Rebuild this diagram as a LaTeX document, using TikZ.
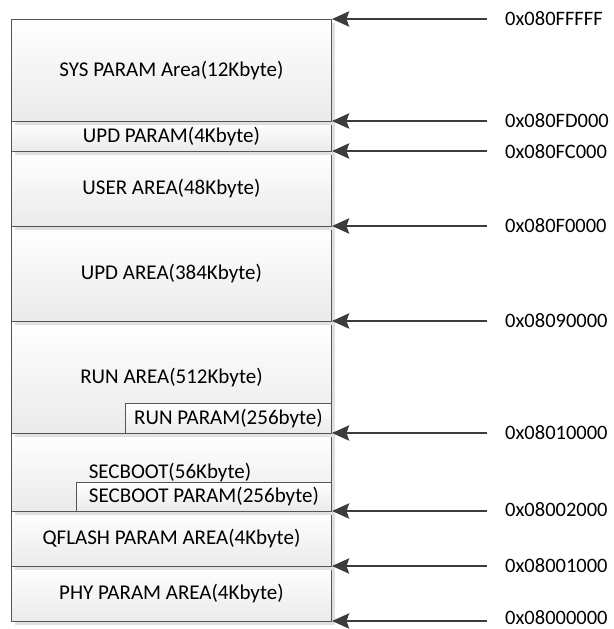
\documentclass[tikz,border=0pt]{standalone}
\usepackage{fontspec}
\setmainfont{Carlito}
\usetikzlibrary{arrows.meta,shadows}
\definecolor{edgec}{HTML}{555555}
\definecolor{arrc}{HTML}{3C3C3C}
\definecolor{shadc}{HTML}{E0E0E0}
\definecolor{botc}{HTML}{EAEAEA}
\tikzset{
  mbox/.style={draw=edgec, line width=0.9pt, top color=white, bottom color=botc,
    minimum width=320pt, inner sep=0pt, anchor=north west,
    drop shadow={shadow xshift=4pt, shadow yshift=-4pt, fill=shadc, opacity=1}},
  sbox/.style={draw=edgec, line width=0.9pt, top color=white, bottom color=botc,
    inner sep=0pt, anchor=north west},
  addr/.style={anchor=west, inner sep=0pt, text=black, font=\fontsize{20.5}{24}\selectfont},
  arr/.style={draw=arrc, line width=2.8pt, -{Stealth[length=17pt,width=15pt,inset=2.5pt]}},
  every node/.style={font=\fontsize{21}{25}\selectfont}
}
\begin{document}
\begin{tikzpicture}[x=1pt,y=-1pt]
\useasboundingbox (0,0) rectangle (613,629);
% boxes drawn bottom-up so upper shadows overlay lower boxes
\node[mbox, minimum height=55pt] (phy) at (11,566) {};
\node at (phy.center) {PHY PARAM AREA(4Kbyte)};
\node[mbox, minimum height=55pt] (qfl) at (11,511) {};
\node at (qfl.center) {QFLASH PARAM AREA(4Kbyte)};
\node[mbox, minimum height=78pt] (sec) at (11,433) {};
\node[sbox, minimum width=255pt, minimum height=29pt] (secp) at (76,482) {};
\node at (170,473) {SECBOOT(56Kbyte)};
\node at (secp.center) {SECBOOT PARAM(256byte)};
\node[mbox, minimum height=112pt] (run) at (11,321) {};
\node at (run.center) {RUN AREA(512Kbyte)};
\node[sbox, minimum width=206pt, minimum height=30pt] (runp) at (125,403) {};
\node at (runp.center) {RUN PARAM(256byte)};
\node[mbox, minimum height=95pt] (upd) at (11,226) {};
\node at (upd.center) {UPD AREA(384Kbyte)};
\node[mbox, minimum height=75pt] (usr) at (11,151) {};
\node at (usr.center) {USER AREA(48Kbyte)};
\node[mbox, minimum height=30pt] (updp) at (11,121) {};
\node at (updp.center) {UPD PARAM(4Kbyte)};
\node[mbox, minimum height=102pt] (sys) at (11,19) {};
\node at (sys.center) {SYS PARAM Area(12Kbyte)};
% boundary points
\coordinate (b0) at (332,19);
\coordinate (b1) at (332,121);
\coordinate (b2) at (332,151);
\coordinate (b3) at (332,226);
\coordinate (b4) at (332,321);
\coordinate (b5) at (332,433);
\coordinate (b6) at (332,511);
\coordinate (b7) at (332,566);
\coordinate (b8) at (332,621);
% address labels
\node[addr] (l0) at (505,19) {0x080FFFFF};
\node[addr] (l1) at (505,121) {0x080FD000};
\node[addr] (l2) at (505,152) {0x080FC000};
\node[addr] (l3) at (505,226) {0x080F0000};
\node[addr] (l4) at (505,321) {0x08090000};
\node[addr] (l5) at (505,433) {0x08010000};
\node[addr] (l6) at (505,510) {0x08002000};
\node[addr] (l7) at (505,566) {0x08001000};
\node[addr] (l8) at (505,618) {0x08000000};
\foreach \i in {0,...,8}{
  \draw[arr] (l\i.west |- b\i) ++(-18,0) -- (b\i);
}
\end{tikzpicture}
\end{document}
